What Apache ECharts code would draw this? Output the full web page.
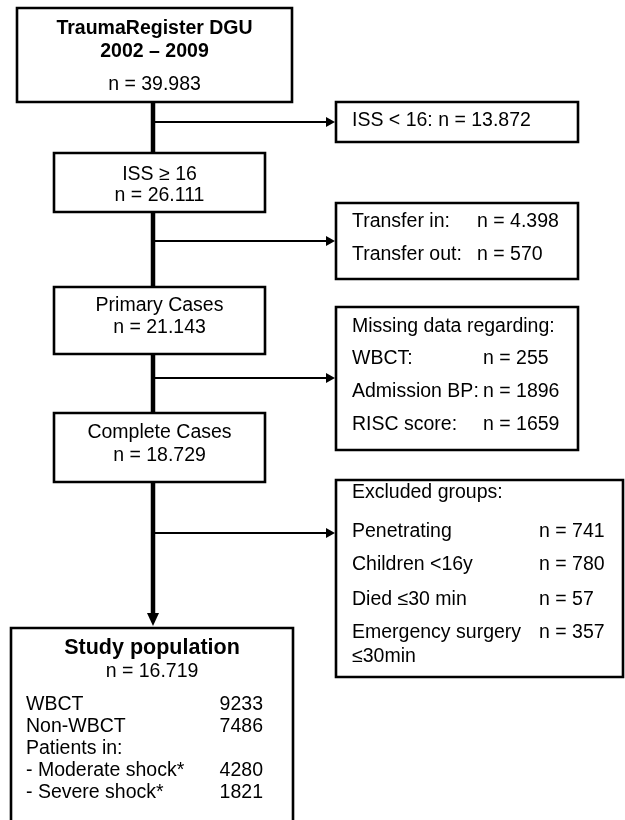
<!DOCTYPE html>
<html>
<head>
<meta charset="utf-8">
<script src="https://cdn.jsdelivr.net/npm/echarts@6/dist/echarts.min.js"></script>
<style>html,body{margin:0;padding:0;background:#fff}#c{width:625px;height:820px}</style>
</head>
<body>
<div id="c"></div>
<script>
// ---- data ----
const mainTitles = [['TraumaRegister DGU', '2002 – 2009'], ['ISS ≥ 16'], ['Primary Cases'], ['Complete Cases'], ['Study population']];
const mainCounts = ['39.983', '26.111', '21.143', '18.729', '16.719'];
const issLowLabel = 'ISS < 16:';
const issLowCount = '13.872';
const transferLabels = ['Transfer in:', 'Transfer out:'];
const transferCounts = ['4.398', '570'];
const missingTitle = 'Missing data regarding:';
const missingLabels = ['WBCT:', 'Admission BP:', 'RISC score:'];
const missingCounts = ['255', '1896', '1659'];
const excludedTitle = 'Excluded groups:';
const excludedLabels = ['Penetrating', 'Children <16y', 'Died ≤30 min', 'Emergency surgery\n≤30min'];
const excludedCounts = ['741', '780', '57', '357'];
const studyLabels = ['WBCT', 'Non-WBCT', 'Patients in:', '- Moderate shock*', '- Severe shock*'];
const studyCounts = ['9233', '7486', '', '4280', '1821'];

// ---- layout (pixels) ----
const FONT = '"Liberation Sans", Arial, sans-serif';
const FS = 19.5;
const L = {
  spineX: 153,
  main: [
    {x: 17, y: 8, w: 275, h: 94, rows: [29, 52, 85], fs: 19.5},
    {x: 54, y: 153, w: 211, h: 59, rows: [175, 196]},
    {x: 54, y: 287, w: 211, h: 67, rows: [306, 328]},
    {x: 54, y: 413, w: 211, h: 69, rows: [433, 456]},
    {x: 11, y: 628, w: 282, h: 210, rows: [648, 672], fs: 21.5}
  ],
  side: [
    {x: 336, y: 102, w: 242, h: 40, branch: 122},
    {x: 336, y: 203, w: 242, h: 76, branch: 241, rows: [222, 255], valX: 477},
    {x: 336, y: 307, w: 242, h: 143, branch: 378, rows: [327, 359, 392, 425], valX: 483},
    {x: 336, y: 480, w: 287, h: 197, branch: 533, rows: [493, 532, 565, 600, 633], valX: 539}
  ],
  sideTextX: 352,
  issRowY: 121,
  study: {labelX: 26, valX: 263, rows: [705, 727, 749, 771, 793]},
  arrowTipY: 626
};

const els = [];
function txt(x, y, s, opts) {
  opts = opts || {};
  const al = opts.align || 'left';
  const fs = opts.fs || FS;
  els.push({
    type: 'text', z: 10,
    style: {
      x: x, y: y, text: s,
      font: (opts.bold ? 'bold ' : '') + fs + 'px ' + FONT,
      fill: '#000',
      align: al, textAlign: al,
      verticalAlign: 'middle', textVerticalAlign: 'middle',
      lineHeight: 24
    }
  });
}
function rect(b, lw) {
  els.push({type: 'rect', z: 5, shape: {x: b.x, y: b.y, width: b.w, height: b.h},
    style: {fill: '#fff', stroke: '#000', lineWidth: lw || 2.6}});
}
function line(x1, y1, x2, y2, w) {
  els.push({type: 'line', z: 3, shape: {x1: x1, y1: y1, x2: x2, y2: y2},
    style: {stroke: '#000', lineWidth: w}});
}
function poly(pts) {
  els.push({type: 'polygon', z: 4, shape: {points: pts}, style: {fill: '#000'}});
}

// spine
const sx = L.spineX;
for (let i = 0; i < L.main.length - 1; i++) {
  const a = L.main[i], b = L.main[i + 1];
  const endY = (i === L.main.length - 2) ? L.arrowTipY - 10 : b.y;
  line(sx, a.y + a.h, sx, endY, 4.5);
}
poly([[sx, L.arrowTipY], [sx - 6, L.arrowTipY - 13], [sx + 6, L.arrowTipY - 13]]);

// branches
L.side.forEach(function (s) {
  line(sx, s.branch, s.x - 8, s.branch, 2.2);
  poly([[s.x - 1, s.branch], [s.x - 10, s.branch - 5], [s.x - 10, s.branch + 5]]);
  rect(s);
});

// main boxes
L.main.forEach(function (b, i) {
  rect(b);
  const cx = b.x + b.w / 2;
  const titles = mainTitles[i];
  const bold = (i === 0 || i === 4);
  titles.forEach(function (t, k) { txt(cx, b.rows[k], t, {align: 'center', bold: bold, fs: b.fs}); });
  txt(cx, b.rows[titles.length], 'n = ' + mainCounts[i], {align: 'center'});
});

// study population rows
studyLabels.forEach(function (lab, k) {
  txt(L.study.labelX, L.study.rows[k], lab);
  if (studyCounts[k]) txt(L.study.valX, L.study.rows[k], studyCounts[k], {align: 'right'});
});

// side box texts
const tx = L.sideTextX;
txt(tx, L.issRowY, issLowLabel + ' n = ' + issLowCount);
const s1 = L.side[1];
transferLabels.forEach(function (lab, k) {
  txt(tx, s1.rows[k], lab);
  txt(s1.valX, s1.rows[k], 'n = ' + transferCounts[k]);
});
const s2 = L.side[2];
txt(tx, s2.rows[0], missingTitle);
missingLabels.forEach(function (lab, k) {
  txt(tx, s2.rows[k + 1], lab);
  txt(s2.valX, s2.rows[k + 1], 'n = ' + missingCounts[k]);
});
const s3 = L.side[3];
txt(tx, s3.rows[0], excludedTitle);
excludedLabels.forEach(function (lab, k) {
  const y = s3.rows[k + 1];
  const parts = lab.split('\n');
  parts.forEach(function (p, j) { txt(tx, y + j * 24, p); });
  txt(s3.valX, y, 'n = ' + excludedCounts[k]);
});

const chart = echarts.init(document.getElementById('c'), null, {renderer: 'canvas'});
chart.setOption({backgroundColor: '#fff', animation: false, graphic: {elements: els}});
</script>
</body>
</html>
